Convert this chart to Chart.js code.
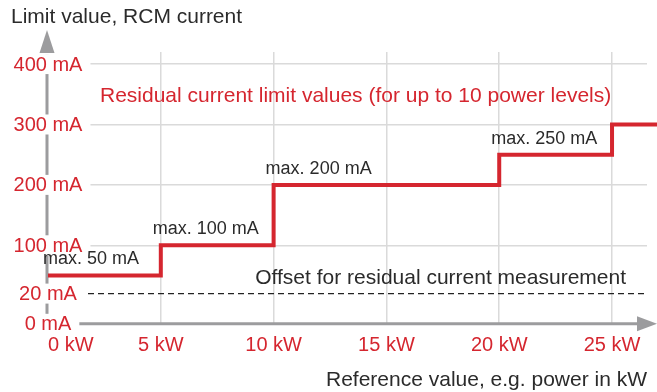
<!DOCTYPE html>
<html>
<head>
<meta charset="utf-8">
<title>Residual current limit values</title>
<script src="https://cdn.jsdelivr.net/npm/chart.js@4.4.1/dist/chart.umd.min.js"></script>
<style>
  html, body { margin: 0; padding: 0; background: #fff; }
  #wrap { width: 657px; height: 392px; }
</style>
</head>
<body>
<div id="wrap"><canvas id="rcm"></canvas></div>
<script>
// start of each power level (kW) and its limit (mA); last point only carries the line to the edge
const powerKW = [0, 5, 10, 20, 25, 27];
const limitMA = [50, 100, 200, 250, 300, 300];
const offsetMA = 20;
const xTicksKW = [0, 5, 10, 15, 20, 25];
const yTicksMA = [0, 20, 100, 200, 300, 400];

const RED = '#d5262f';
const GREY = '#9c9c9e';
const TEXT = '#2b2b2b';
const GRID = '#dadada';
const FONT = '"Liberation Sans", Arial, Helvetica, sans-serif';
const X_MAX = 26.55;

// bottom of the current axis is squeezed: 0..20 mA gets the room of 50 mA
const kink = v => (v >= 20 ? v : -30 + v * 2.5);
const unkink = u => (u >= 20 ? u : (u + 30) / 2.5);

class KinkedScale extends Chart.LinearScale {
  getPixelForValue(value) {
    return super.getPixelForValue(kink(value));
  }
  getValueForPixel(pixel) {
    return unkink(super.getValueForPixel(pixel));
  }
}
KinkedScale.id = 'kinked';
KinkedScale.defaults = Chart.LinearScale.defaults;
Chart.register(KinkedScale);

const decorations = {
  id: 'decorations',
  beforeDatasetsDraw(chart) {
    const { ctx, chartArea: a } = chart;
    const ax = a.left - 1;
    ctx.save();
    ctx.strokeStyle = GREY;
    ctx.fillStyle = GREY;
    ctx.lineWidth = 3;
    // y axis + arrow
    ctx.beginPath();
    ctx.moveTo(ax, a.bottom);
    ctx.lineTo(ax, a.top + 2);
    ctx.stroke();
    ctx.beginPath();
    ctx.moveTo(ax - 7.5, a.top + 1);
    ctx.lineTo(ax, a.top - 22);
    ctx.lineTo(ax + 7.5, a.top + 1);
    ctx.closePath();
    ctx.fill();
    // x axis + arrow
    const tip = chart.width;
    ctx.beginPath();
    ctx.moveTo(a.left, a.bottom);
    ctx.lineTo(tip - 18, a.bottom);
    ctx.stroke();
    ctx.beginPath();
    ctx.moveTo(tip - 20, a.bottom - 7.5);
    ctx.lineTo(tip, a.bottom);
    ctx.lineTo(tip - 20, a.bottom + 7.5);
    ctx.closePath();
    ctx.fill();
    ctx.restore();
  },
  afterDatasetsDraw(chart) {
    const { ctx, chartArea: a, scales: { x, y } } = chart;
    ctx.save();

    // current tick labels sit on the axis line, on a white patch
    ctx.font = '20px ' + FONT;
    ctx.textAlign = 'center';
    ctx.textBaseline = 'middle';
    yTicksMA.forEach(v => {
      const label = v + ' mA';
      const py = y.getPixelForValue(v);
      const w = ctx.measureText(label).width;
      ctx.fillStyle = '#fff';
      ctx.fillRect(a.left - w / 2 - 4, py - 10, w + 12, 20);
      ctx.fillStyle = RED;
      ctx.fillText(label, a.left, py + 1);
    });

    // "max." label above each of the first four steps
    ctx.font = '18px ' + FONT;
    ctx.textAlign = 'left';
    ctx.textBaseline = 'alphabetic';
    ctx.fillStyle = TEXT;
    for (let i = 0; i < 4; i++) {
      const px = x.getPixelForValue(powerKW[i]);
      const py = y.getPixelForValue(limitMA[i]);
      ctx.fillText('max. ' + limitMA[i] + ' mA', px - (i === 0 ? 5 : 8), py - 11);
    }

    ctx.font = '21px ' + FONT;
    ctx.textAlign = 'right';
    ctx.fillText('Offset for residual current measurement', a.right - 21, y.getPixelForValue(offsetMA) - 10);

    ctx.textAlign = 'left';
    ctx.fillText('Limit value, RCM current', 11, 23);

    ctx.fillStyle = RED;
    ctx.fillText('Residual current limit values (for up to 10 power levels)', a.left + 52, 102);
    ctx.restore();
  }
};

new Chart(document.getElementById('rcm'), {
  type: 'line',
  data: {
    datasets: [
      {
        label: 'Residual current limit',
        data: powerKW.map((p, i) => ({ x: p, y: limitMA[i] })),
        stepped: 'before',
        borderColor: RED,
        borderWidth: 4,
        borderJoinStyle: 'miter',
        pointRadius: 0,
        clip: false
      },
      {
        label: 'Offset',
        data: [{ x: 0, y: offsetMA }, { x: X_MAX, y: offsetMA }],
        borderColor: '#222',
        borderWidth: 1.3,
        borderDash: [6, 4],
        pointRadius: 0
      }
    ]
  },
  options: {
    responsive: true,
    maintainAspectRatio: false,
    animation: false,
    layout: { padding: { left: 48, right: 9, top: 52, bottom: -1 } },
    plugins: {
      legend: { display: false },
      tooltip: { enabled: false }
    },
    scales: {
      x: {
        type: 'linear',
        min: 0,
        max: X_MAX,
        bounds: 'data',
        afterBuildTicks: s => {
          s.ticks = xTicksKW.concat(X_MAX).map(v => ({ value: v }));
        },
        grid: {
          color: c => (c.tick && c.tick.value > 0 && c.tick.value <= 25 ? GRID : 'rgba(0,0,0,0)'),
          lineWidth: 1.5,
          drawTicks: false
        },
        border: { display: false },
        ticks: {
          color: RED,
          font: { family: FONT, size: 20 },
          padding: 10,
          align: 'inner',
          maxRotation: 0,
          autoSkip: false,
          callback: v => (v > 25 ? '' : v + ' kW')
        },
        title: {
          display: true,
          text: 'Reference value, e.g. power in kW',
          align: 'end',
          color: TEXT,
          font: { family: FONT, size: 21 },
          padding: { top: 0, bottom: 0 }
        }
      },
      y: {
        type: 'kinked',
        position: 'left',
        min: kink(0),
        max: 420,
        bounds: 'data',
        afterBuildTicks: s => {
          s.ticks = yTicksMA.map(v => ({ value: v }));
        },
        grid: {
          color: c => (c.tick && c.tick.value >= 100 ? GRID : 'rgba(0,0,0,0)'),
          lineWidth: 1.5,
          drawTicks: false
        },
        border: { display: false },
        ticks: { display: false }
      }
    }
  },
  plugins: [decorations]
});
</script>
</body>
</html>
